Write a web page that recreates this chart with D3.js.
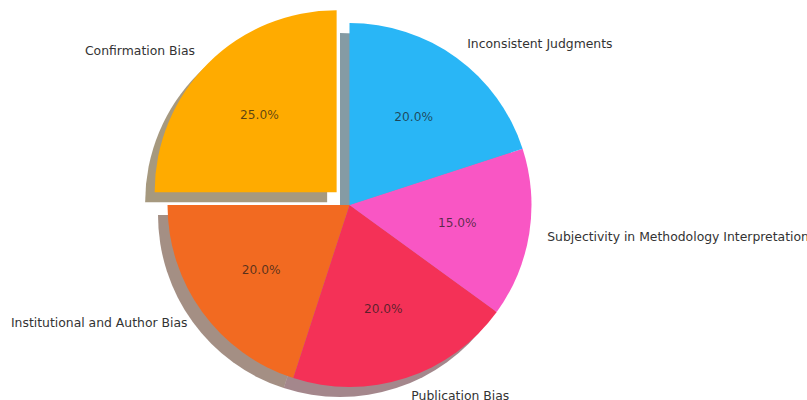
<!DOCTYPE html>
<html>
<head>
<meta charset="utf-8">
<script src="https://cdn.jsdelivr.net/npm/d3@7"></script>
<style>
  html, body { margin: 0; padding: 0; background: #ffffff; }
  svg { display: block; }
  text { font-family: "DejaVu Sans", sans-serif; }
</style>
</head>
<body>
<svg id="chart" width="807" height="400"></svg>
<script>
// Sources of bias in peer review (share of cases, %)
const categories = [
  "Confirmation Bias",
  "Institutional and Author Bias",
  "Publication Bias",
  "Subjectivity in Methodology Interpretation",
  "Inconsistent Judgments"
];
const shares = [25, 20, 20, 15, 20];
const sliceColors = ["#FFAB00", "#F26A21", "#F43157", "#F956C4", "#29B6F6"];
const explodeFrac = [0.1, 0, 0, 0, 0];

const width = 807, height = 400;
const cx = 349.5, cy = 205, radius = 182;
const shadowDx = -9.5, shadowDy = 10;

const svg = d3.select("#chart");

const rows = categories.map((name, i) => ({
  name, value: shares[i], color: sliceColors[i], explode: explodeFrac[i]
}));

// Slices run counter-clockwise from 12 o'clock
const pie = d3.pie()
  .sort(null)
  .value(d => d.value)
  .startAngle(0)
  .endAngle(-2 * Math.PI);

const arcs = pie(rows);
const arc = d3.arc().innerRadius(0).outerRadius(radius);
const total = d3.sum(shares);

// offset of each slice center after exploding
function offset(a) {
  const mid = (a.startAngle + a.endAngle) / 2;
  const d = a.data.explode * radius;
  return [d * Math.sin(mid), -d * Math.cos(mid)];
}
function pointAt(a, dist) {
  const mid = (a.startAngle + a.endAngle) / 2;
  const [ox, oy] = offset(a);
  return [cx + ox + dist * Math.sin(mid), cy + oy - dist * Math.cos(mid)];
}

// Drop shadows (drawn under every slice)
svg.append("g")
  .selectAll("path")
  .data(arcs)
  .join("path")
  .attr("transform", d => {
    const [ox, oy] = offset(d);
    return `translate(${cx + ox + shadowDx},${cy + oy + shadowDy})`;
  })
  .attr("d", arc)
  .attr("fill", d => {
    const c = d3.rgb(d.data.color);
    return d3.rgb(c.r * 0.3, c.g * 0.3, c.b * 0.3);
  })
  .attr("fill-opacity", 0.5);

// Slices
svg.append("g")
  .selectAll("path")
  .data(arcs)
  .join("path")
  .attr("transform", d => {
    const [ox, oy] = offset(d);
    return `translate(${cx + ox},${cy + oy})`;
  })
  .attr("d", arc)
  .attr("fill", d => d.data.color);

// Category labels outside the pie
svg.append("g")
  .selectAll("text")
  .data(arcs)
  .join("text")
  .each(function(d) {
    const [x, y] = pointAt(d, radius * 1.1);
    d3.select(this)
      .attr("x", x)
      .attr("y", y)
      .attr("dy", "0.37em")
      .attr("text-anchor", x < cx + offset(d)[0] ? "end" : "start");
  })
  .attr("font-size", "12.4px")
  .attr("fill", "#333333")
  .text(d => d.data.name);

// Percentage labels inside the slices
svg.append("g")
  .selectAll("text")
  .data(arcs)
  .join("text")
  .each(function(d) {
    const [x, y] = pointAt(d, radius * 0.6);
    d3.select(this).attr("x", x).attr("y", y);
  })
  .attr("dy", "0.37em")
  .attr("text-anchor", "middle")
  .attr("font-size", "12.2px")
  .attr("fill", "#1a1a1a")
  .attr("fill-opacity", 0.72)
  .text(d => (d.data.value / total * 100).toFixed(1) + "%");
</script>
</body>
</html>
